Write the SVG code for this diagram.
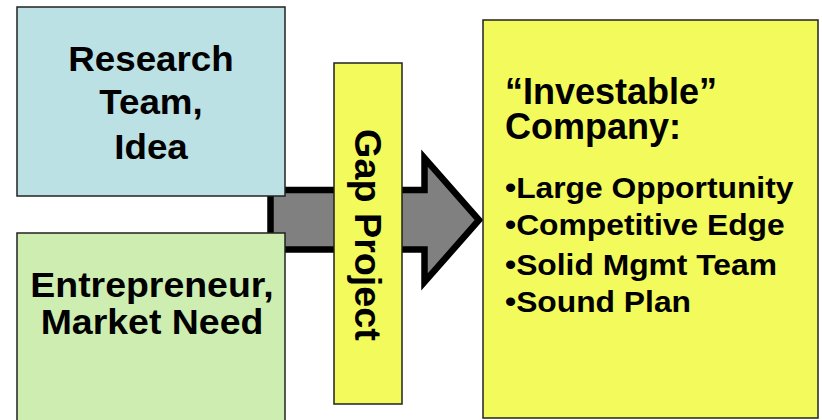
<svg xmlns="http://www.w3.org/2000/svg" width="822" height="420" viewBox="0 0 822 420">
  <style>
    .box { stroke: #222; stroke-width: 1.5; }
    .label { font-family: "Liberation Sans", Arial, sans-serif; font-weight: bold; fill: #000; }
    .mid { text-anchor: middle; }
  </style>
  <rect width="822" height="420" fill="#fff"/>

  <!-- flow arrow from the source boxes into the company box -->
  <g id="connectors">
    <polygon points="270.5,190 424.5,190 424.5,158 479,220 424.5,282 424.5,249.5 270.5,249.5"
             fill="#808080" stroke="#000" stroke-width="6.5" stroke-linejoin="miter" stroke-miterlimit="10"/>
  </g>

  <g id="research">
    <rect class="box" x="17" y="7" width="268" height="189" fill="#BCE1E5"/>
    <text class="label mid" font-size="35" transform="translate(151,71) scale(1.05,1)">Research</text>
    <text class="label mid" font-size="35" transform="translate(151,114) scale(1.05,1)">Team,</text>
    <text class="label mid" font-size="35" transform="translate(151,159) scale(1.05,1)">Idea</text>
  </g>

  <g id="entrepreneur">
    <rect class="box" x="17" y="233" width="268" height="195" fill="#CEEEB1"/>
    <text class="label mid" font-size="35" transform="translate(152,297) scale(1.07,1)">Entrepreneur,</text>
    <text class="label mid" font-size="35" transform="translate(152,334) scale(1.07,1)">Market Need</text>
  </g>

  <g id="gap-project">
    <rect class="box" x="334" y="63" width="68" height="341" fill="#F2FA5C"/>
    <text class="label mid" font-size="37" transform="translate(355,235) rotate(90) scale(1.02,1)">Gap Project</text>
  </g>

  <g id="company">
    <rect class="box" x="483" y="20" width="335" height="398" fill="#F2FA5C"/>
    <text class="label" font-size="36" x="505" y="104">“Investable”</text>
    <text class="label" font-size="36" x="505" y="139">Company:</text>
    <text class="label" font-size="30" transform="translate(505,198) scale(1.06,1)">•Large Opportunity</text>
    <text class="label" font-size="30" transform="translate(505,235) scale(1.06,1)">•Competitive Edge</text>
    <text class="label" font-size="30" transform="translate(505,275) scale(1.06,1)">•Solid Mgmt Team</text>
    <text class="label" font-size="30" transform="translate(505,312) scale(1.06,1)">•Sound Plan</text>
  </g>
</svg>
